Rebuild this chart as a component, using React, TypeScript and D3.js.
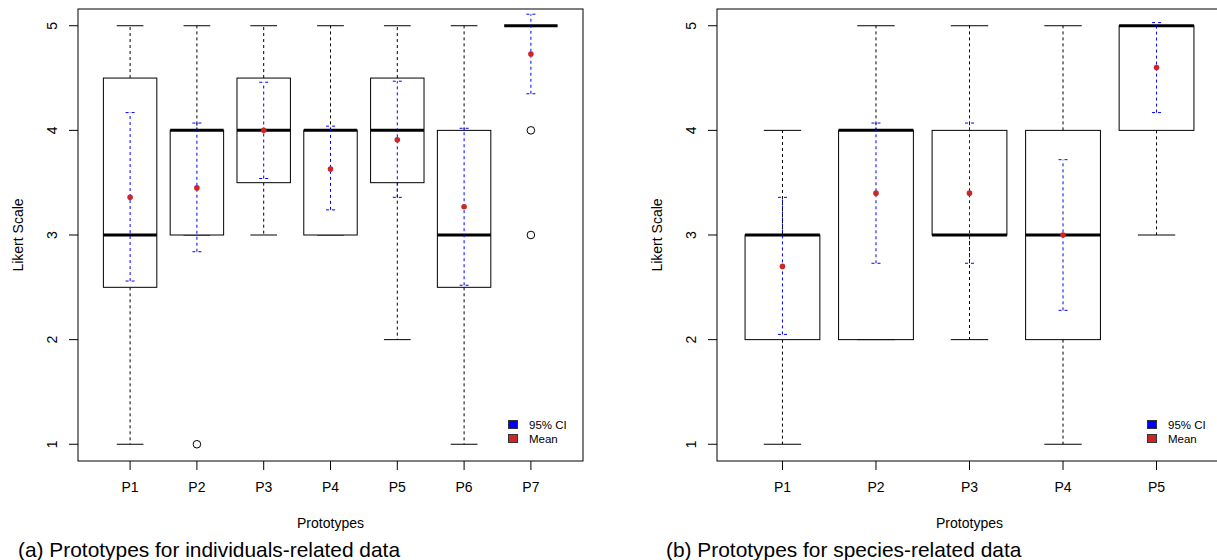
import React, { useEffect, useRef } from 'react';
import * as d3 from 'd3';

// ---- panel (a): individuals-related data ----
const protosA = ['P1', 'P2', 'P3', 'P4', 'P5', 'P6', 'P7'];
const lowA = [1, 3, 3, 3, 2, 1, 5];
const q1A = [2.5, 3, 3.5, 3, 3.5, 2.5, 5];
const medA = [3, 4, 4, 4, 4, 3, 5];
const q3A = [4.5, 4, 4.5, 4, 4.5, 4, 5];
const highA = [5, 5, 5, 5, 5, 5, 5];
const outA = [[], [1], [], [], [], [], [4, 3]];
const meanA = [3.36, 3.45, 4.0, 3.63, 3.91, 3.27, 4.73];
const ciLowA = [2.56, 2.84, 3.54, 3.24, 3.36, 2.52, 4.35];
const ciHighA = [4.17, 4.07, 4.46, 4.04, 4.47, 4.02, 5.11];

// ---- panel (b): species-related data ----
const protosB = ['P1', 'P2', 'P3', 'P4', 'P5'];
const lowB = [1, 2, 2, 1, 3];
const q1B = [2, 2, 3, 2, 4];
const medB = [3, 4, 3, 3, 5];
const q3B = [3, 4, 4, 4, 5];
const highB = [4, 5, 5, 5, 5];
const outB = [[], [], [], [], []];
const meanB = [2.7, 3.4, 3.4, 3.0, 4.6];
const ciLowB = [2.05, 2.73, 2.73, 2.28, 4.17];
const ciHighB = [3.36, 4.07, 4.07, 3.72, 5.03];

const yTicks = [1, 2, 3, 4, 5];
const legendItems = ['95% CI', 'Mean'];
const legendColors = ['#0000ff', '#cd2626'];

const FONT = '"Liberation Sans", Arial, Helvetica, sans-serif';

const App = () => {
    const svgRef = useRef(null);

    useEffect(() => {
        const svg = d3.select(svgRef.current);
        svg.selectAll('*').remove();

        const top = 9;
        const bottom = 461;
        const plotW = 505;

        const y = d3.scaleLinear().domain([0.84, 5.16]).range([bottom, top]);

        function drawPanel(left, protos, low, q1, med, q3, high, outs, mean, ciLow, ciHigh, title, caption, capX) {
            const n = protos.length;
            const ext = n * 0.04;
            const x = d3.scaleLinear()
                .domain([0.5 - ext, n + 0.5 + ext])
                .range([left, left + plotW]);
            const unit = x(1) - x(0);
            const boxW = 0.8 * unit;
            const capW = boxW / 2;

            const g = svg.append('g');

            // whiskers, boxes, medians, outliers
            protos.forEach((p, i) => {
                const cx = x(i + 1);
                g.append('line')
                    .attr('x1', cx).attr('x2', cx)
                    .attr('y1', y(q3[i])).attr('y2', y(high[i]))
                    .attr('stroke', '#000').attr('stroke-dasharray', '3,3');
                g.append('line')
                    .attr('x1', cx).attr('x2', cx)
                    .attr('y1', y(q1[i])).attr('y2', y(low[i]))
                    .attr('stroke', '#000').attr('stroke-dasharray', '3,3');
                [low[i], high[i]].forEach((v) => {
                    g.append('line')
                        .attr('x1', cx - capW / 2).attr('x2', cx + capW / 2)
                        .attr('y1', y(v)).attr('y2', y(v))
                        .attr('stroke', '#000');
                });
                g.append('rect')
                    .attr('x', cx - boxW / 2)
                    .attr('y', y(q3[i]))
                    .attr('width', boxW)
                    .attr('height', Math.max(0, y(q1[i]) - y(q3[i])))
                    .attr('fill', '#fff')
                    .attr('stroke', '#000');
                g.append('line')
                    .attr('x1', cx - boxW / 2).attr('x2', cx + boxW / 2)
                    .attr('y1', y(med[i])).attr('y2', y(med[i]))
                    .attr('stroke', '#000').attr('stroke-width', 3);
                outs[i].forEach((v) => {
                    g.append('circle')
                        .attr('cx', cx).attr('cy', y(v)).attr('r', 3.8)
                        .attr('fill', 'none').attr('stroke', '#000');
                });
            });

            // confidence intervals and means
            protos.forEach((p, i) => {
                const cx = x(i + 1);
                g.append('line')
                    .attr('x1', cx).attr('x2', cx)
                    .attr('y1', y(ciLow[i])).attr('y2', y(ciHigh[i]))
                    .attr('stroke', '#0000ff').attr('stroke-dasharray', '3,3');
                [ciLow[i], ciHigh[i]].forEach((v) => {
                    g.append('line')
                        .attr('x1', cx - 4.5).attr('x2', cx + 4.5)
                        .attr('y1', y(v)).attr('y2', y(v))
                        .attr('stroke', '#0000ff').attr('stroke-dasharray', '3,3');
                });
                g.append('circle')
                    .attr('cx', cx).attr('cy', y(mean[i])).attr('r', 2.8)
                    .attr('fill', '#cd2626');
            });

            // frame
            g.append('rect')
                .attr('x', left).attr('y', top)
                .attr('width', plotW).attr('height', bottom - top)
                .attr('fill', 'none').attr('stroke', '#000');

            // x axis
            protos.forEach((p, i) => {
                const cx = x(i + 1);
                g.append('line')
                    .attr('x1', cx).attr('x2', cx)
                    .attr('y1', bottom).attr('y2', bottom + 9)
                    .attr('stroke', '#000');
                g.append('text')
                    .attr('x', cx).attr('y', bottom + 31)
                    .attr('text-anchor', 'middle')
                    .attr('font-size', 14)
                    .attr('font-family', FONT)
                    .text(p);
            });

            // y axis
            yTicks.forEach((t) => {
                g.append('line')
                    .attr('x1', left - 9).attr('x2', left)
                    .attr('y1', y(t)).attr('y2', y(t))
                    .attr('stroke', '#000');
                g.append('text')
                    .attr('transform', `translate(${left - 21},${y(t)}) rotate(-90)`)
                    .attr('text-anchor', 'middle')
                    .attr('font-size', 14)
                    .attr('font-family', FONT)
                    .text(t);
            });

            g.append('text')
                .attr('transform', `translate(${left - 55},${(top + bottom) / 2}) rotate(-90)`)
                .attr('text-anchor', 'middle')
                .attr('font-size', 14)
                .attr('font-family', FONT)
                .text('Likert Scale');

            g.append('text')
                .attr('x', left + plotW / 2).attr('y', 528)
                .attr('text-anchor', 'middle')
                .attr('font-size', 14)
                .attr('font-family', FONT)
                .text(title);

            // legend
            legendItems.forEach((item, i) => {
                const ly = 420.5 + i * 14;
                g.append('rect')
                    .attr('x', left + plotW - 74.5).attr('y', ly)
                    .attr('width', 9).attr('height', 8)
                    .attr('fill', legendColors[i])
                    .attr('stroke', '#333');
                g.append('text')
                    .attr('x', left + plotW - 54).attr('y', ly + 8)
                    .attr('font-size', 11.5)
                    .attr('font-family', FONT)
                    .text(item);
            });

            svg.append('text')
                .attr('x', capX).attr('y', 556.5)
                .attr('font-size', 20.9)
                .attr('font-family', FONT)
                .text(caption);
        }

        drawPanel(78, protosA, lowA, q1A, medA, q3A, highA, outA, meanA, ciLowA, ciHighA,
            'Prototypes', '(a) Prototypes for individuals-related data', 18);
        drawPanel(717, protosB, lowB, q1B, medB, q3B, highB, outB, meanB, ciLowB, ciHighB,
            'Prototypes', '(b) Prototypes for species-related data', 666);
    }, []);

    return (
        <svg ref={svgRef} width={1217} height={560}
            style={{ position: 'absolute', left: 0, top: 0, background: '#fff' }}></svg>
    );
};

export default App;
